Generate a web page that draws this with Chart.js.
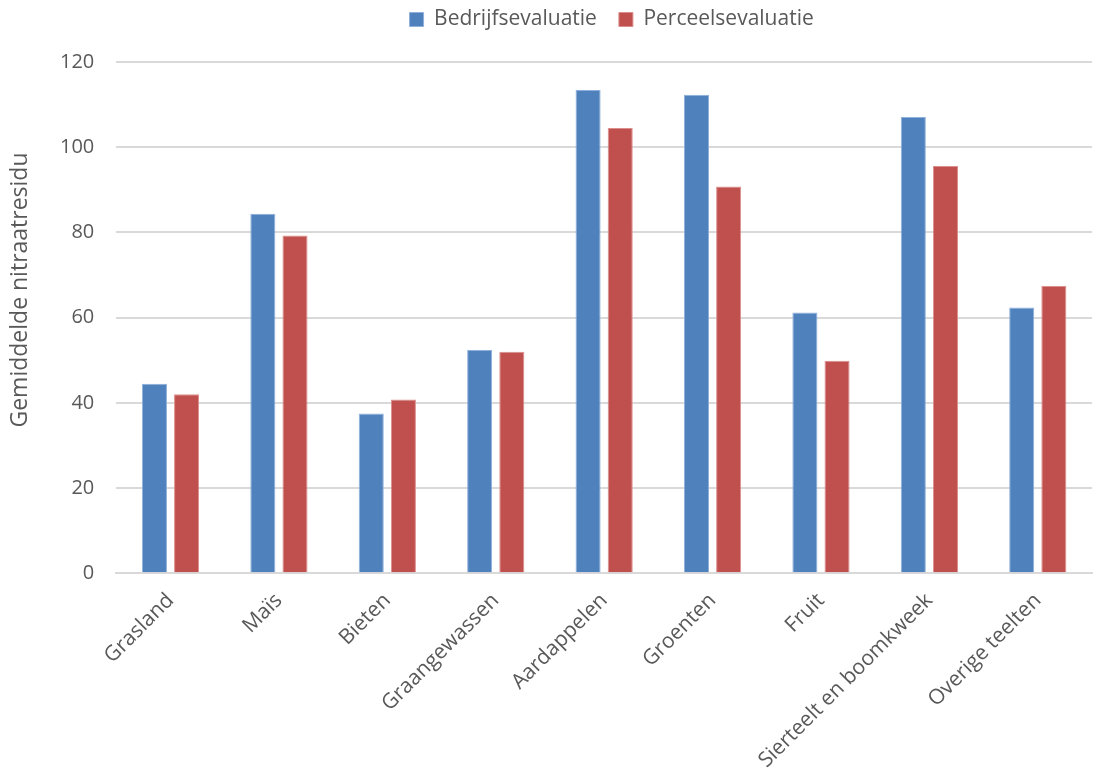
<!DOCTYPE html>
<html>
<head>
<meta charset="utf-8">
<script src="https://cdn.jsdelivr.net/npm/chart.js@4/dist/chart.umd.min.js"></script>
<style>
  html, body { margin: 0; padding: 0; background: #fff; }
  #wrap { width: 1097px; height: 769px; }
</style>
</head>
<body>
<div id="wrap"><canvas id="chart" width="1097" height="769"></canvas></div>
<script>
// crop categories and mean nitrate residue per evaluation type
var categories = ["Grasland", "Maïs", "Bieten", "Graangewassen", "Aardappelen", "Groenten", "Fruit", "Sierteelt en boomkweek", "Overige teelten"];
var bedrijf = [44.5, 84.4, 37.5, 52.4, 113.4, 112.3, 61.2, 107.1, 62.4];
var perceel = [42.0, 79.3, 40.8, 52.0, 104.5, 90.8, 49.9, 95.6, 67.4];
var yTicks = [0, 20, 40, 60, 80, 100, 120];
var yTitle = "Gemiddelde nitraatresidu";

var textColor = "#595959";
var font = "'Open Sans', 'Noto Sans', sans-serif";

// legend: fixed height, centered over the plot area and nudged up
var legendTweak = {
  id: 'legendTweak',
  afterInit: function (chart) {
    var fit = chart.legend.fit;
    chart.legend.fit = function () {
      fit.call(this);
      this.height = 62;
    };
  },
  afterLayout: function (chart) {
    var lg = chart.legend;
    var shift = (chart.chartArea.left + chart.chartArea.right) / 2 - chart.width / 2 - 9;
    lg.left += shift;
    lg.right += shift;
    lg.top -= 13;
    lg.bottom -= 13;
  }
};

// y axis title drawn by hand, it sits a bit above the plot middle
var yTitlePlugin = {
  id: 'yTitlePlugin',
  afterDraw: function (chart) {
    var ctx = chart.ctx;
    ctx.save();
    ctx.translate(20, 290);
    ctx.rotate(-Math.PI / 2);
    ctx.font = "23px " + font;
    ctx.fillStyle = textColor;
    ctx.textAlign = 'center';
    ctx.textBaseline = 'middle';
    ctx.fillText(yTitle, 0, 0);
    ctx.restore();
  }
};

var chart = new Chart(document.getElementById("chart").getContext("2d"), {
  type: 'bar',
  data: {
    labels: categories,
    datasets: [{
      label: "Bedrijfsevaluatie",
      data: bedrijf,
      backgroundColor: '#4F81BD',
      borderColor: '#8fb0dc',
      borderWidth: 1,
      categoryPercentage: 0.593,
      barPercentage: 0.78
    }, {
      label: "Perceelsevaluatie",
      data: perceel,
      backgroundColor: '#C0504D',
      borderColor: '#dc8e8c',
      borderWidth: 1,
      categoryPercentage: 0.593,
      barPercentage: 0.78
    }]
  },
  options: {
    responsive: false,
    animation: false,
    layout: { padding: { top: 0, right: 5, left: 38, bottom: 0 } },
    plugins: {
      tooltip: { enabled: false },
      legend: {
        position: 'top',
        labels: {
          color: textColor,
          font: { family: font, size: 21 },
          boxWidth: 14,
          boxHeight: 14,
          padding: 22
        }
      }
    },
    scales: {
      x: {
        grid: { display: false, drawTicks: false },
        border: { color: '#d9d9d9', width: 2 },
        afterFit: function (axis) {
          axis.height -= 19;
        },
        ticks: {
          color: textColor,
          font: { family: font, size: 21 },
          maxRotation: 45,
          minRotation: 45,
          padding: 15
        }
      },
      y: {
        min: 0,
        max: 120,
        afterBuildTicks: function (axis) {
          axis.ticks = yTicks.map(function (v) { return { value: v }; });
        },
        grid: { color: '#d9d9d9', lineWidth: 2, drawTicks: false },
        border: { display: false },
        ticks: {
          color: textColor,
          font: { family: font, size: 20 },
          padding: 22
        }
      }
    }
  },
  plugins: [legendTweak, yTitlePlugin]
});
</script>
</body>
</html>
